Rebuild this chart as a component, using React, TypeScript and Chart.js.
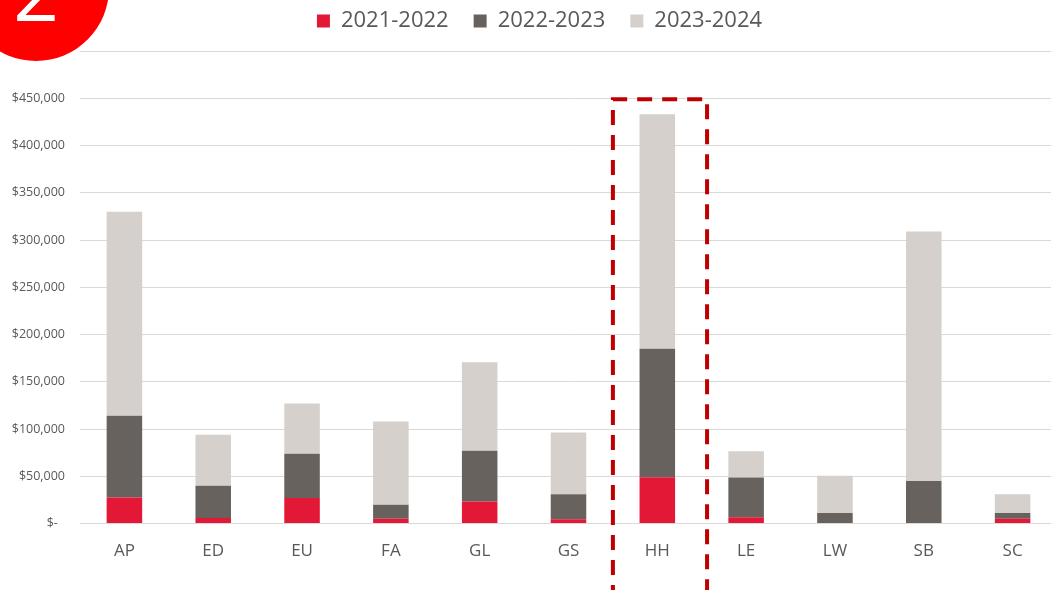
import React, { useEffect, useRef } from "react";
import { Chart, registerables } from "chart.js";

Chart.register(...registerables);

const categories = ["AP", "ED", "EU", "FA", "GL", "GS", "HH", "LE", "LW", "SB", "SC"];
const seriesNames = ["2021-2022", "2022-2023", "2023-2024"];
const values2122 = [27500, 6000, 27000, 5000, 23300, 4500, 49000, 6700, 0, 0, 5000];
const values2223 = [86500, 34000, 47000, 15000, 53700, 26500, 136000, 42000, 11300, 45000, 6300];
const values2324 = [216000, 54000, 53000, 88000, 93700, 65300, 248000, 27800, 39200, 264000, 19700];
const seriesColors = ["#E31837", "#67625E", "#D5D0CB"];
const highlightCategory = "HH";
const yMax = 500000;
const yStep = 50000;
const highlightTop = 450000;

const fmt = (v: number) => {
  if (v >= yMax) return "";
  return v === 0 ? "$-\u2007" : "$" + v.toLocaleString("en-US");
};

const overlayPlugin = {
  id: "overlay",
  afterDraw(chart: any) {
    const ctx = chart.ctx;
    const x = chart.scales.x;
    const y = chart.scales.y;
    const idx = categories.indexOf(highlightCategory);
    const c = x.getPixelForValue(idx);
    const w = x.getPixelForValue(1) - x.getPixelForValue(0);
    const left = c - 0.5 * w;
    const right = c + 0.56 * w;
    const top = y.getPixelForValue(highlightTop) + 1;
    const bottom = chart.height + 10;
    ctx.save();
    ctx.strokeStyle = "#C00000";
    ctx.lineWidth = 4;
    ctx.setLineDash([15, 10]);
    ctx.beginPath();
    ctx.moveTo(left, bottom);
    ctx.lineTo(left, top);
    ctx.lineTo(right, top);
    ctx.lineTo(right, bottom);
    ctx.stroke();
    ctx.restore();

    // badge
    ctx.save();
    ctx.fillStyle = "#FF0000";
    ctx.beginPath();
    ctx.arc(36, -12, 73, 0, Math.PI * 2);
    ctx.fill();
    ctx.fillStyle = "#FFFFFF";
    ctx.font = "80px 'Open Sans'";
    ctx.textAlign = "center";
    ctx.textBaseline = "alphabetic";
    ctx.fillText("2", 36, 21);
    ctx.restore();
  },
};

const legendShift = {
  id: "legendShift",
  afterLayout(chart: any) {
    const lg = chart.legend;
    if (lg) {
      lg.left += 11;
      lg.right += 11;
      lg.top -= 9;
      lg.bottom -= 9;
    }
  },
};

export default function App() {
  const ref = useRef<HTMLCanvasElement | null>(null);
  useEffect(() => {
    document.body.style.margin = "0";
    const canvas = ref.current;
    if (!canvas) return;
    const chart = new Chart(canvas, {
      type: "bar",
      data: {
        labels: categories,
        datasets: [
          { label: seriesNames[0], data: values2122, backgroundColor: seriesColors[0] },
          { label: seriesNames[1], data: values2223, backgroundColor: seriesColors[1] },
          { label: seriesNames[2], data: values2324, backgroundColor: seriesColors[2] },
        ],
      },
      options: {
        responsive: false,
        animation: false,
        layout: { padding: { top: -6, bottom: 12, left: 0, right: 0 } },
        datasets: { bar: { barPercentage: 0.4, categoryPercentage: 1 } } as any,
        plugins: {
          legend: {
            position: "top",
            labels: {
              boxWidth: 13,
              boxHeight: 13,
              padding: 25,
              color: "#595959",
              font: { family: "'Open Sans'", size: 22 },
            },
          },
          tooltip: { enabled: false },
        },
        scales: {
          x: {
            stacked: true,
            grid: { display: false, drawTicks: false },
            border: { display: true, color: "#D9D9D9" },
            ticks: {
              color: "#595959",
              padding: 17,
              font: { family: "'Open Sans'", size: 17 },
            },
          },
          y: {
            stacked: true,
            min: 0,
            max: yMax,
            afterFit: (scale: any) => {
              scale.width = 80;
            },
            grid: { color: "#D9D9D9", drawTicks: false },
            border: { display: false },
            ticks: {
              stepSize: yStep,
              padding: 15,
              color: "#595959",
              font: { family: "'Open Sans'", size: 12.5 },
              callback: (v: any) => fmt(Number(v)),
            },
          },
        },
      },
      plugins: [overlayPlugin, legendShift],
    });
    return () => chart.destroy();
  }, []);
  return (
    <div style={{ position: "fixed", left: 0, top: 0, width: 1051, height: 590, overflow: "hidden", background: "#fff" }}>
      <canvas ref={ref} width={1057} height={590} style={{ display: "block" }} />
    </div>
  );
}
